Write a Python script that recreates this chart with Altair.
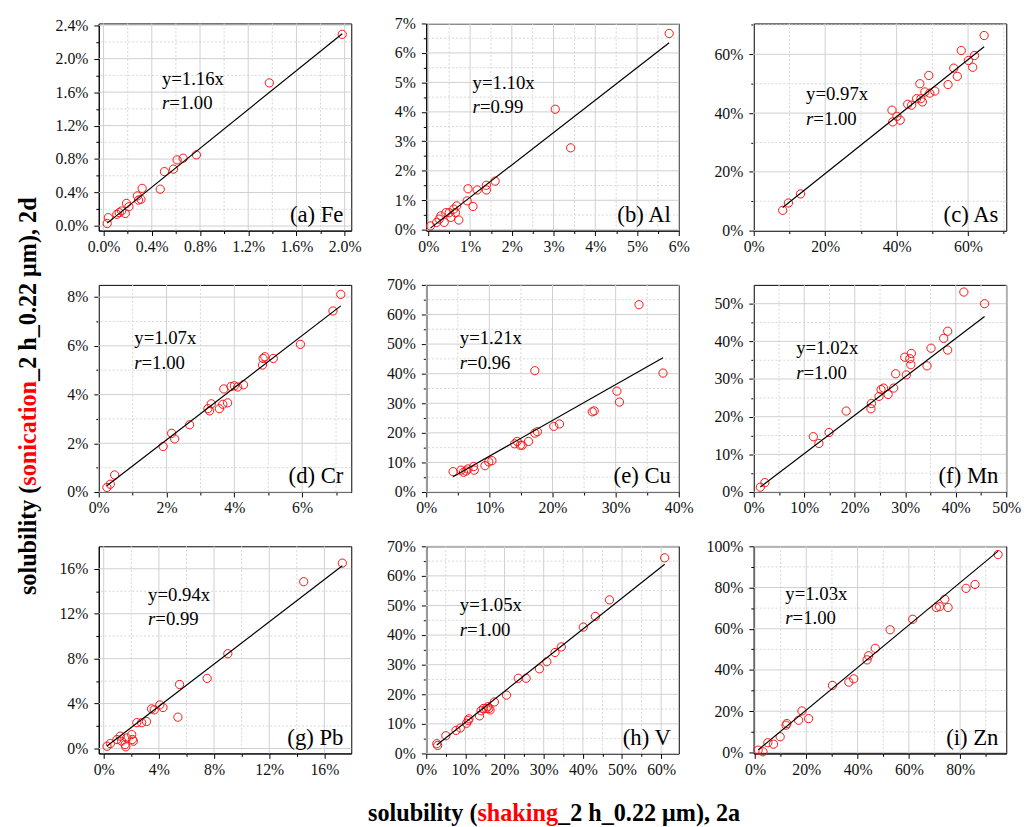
import json
import altair as alt
import pandas as pd

FONT = "Liberation Serif"

# ---------------- data (percent units) ----------------
fe_x = [0.03, 0.04, 0.11, 0.13, 0.15, 0.18, 0.19, 0.21, 0.28, 0.29, 0.31, 0.32, 0.47, 0.505, 0.58, 0.61, 0.66, 0.77, 1.375, 1.98]
fe_y = [0.03, 0.10, 0.14, 0.16, 0.18, 0.15, 0.27, 0.23, 0.36, 0.31, 0.32, 0.45, 0.44, 0.65, 0.68, 0.79, 0.81, 0.85, 1.71, 2.29]

al_x = [0.05, 0.2, 0.26, 0.3, 0.38, 0.42, 0.5, 0.54, 0.61, 0.65, 0.68, 0.73, 0.93, 0.95, 1.07, 1.17, 1.39, 1.39, 1.6, 3.04, 3.41, 5.77]
al_y = [0.13, 0.25, 0.36, 0.47, 0.25, 0.58, 0.58, 0.42, 0.70, 0.58, 0.81, 0.33, 0.98, 1.39, 0.79, 1.35, 1.51, 1.35, 1.65, 4.09, 2.78, 6.66]

as_x = [8.1, 9.7, 13.1, 38.7, 38.9, 40.1, 41.0, 43.1, 44.2, 45.6, 46.5, 46.8, 47.2, 47.9, 49.0, 49.3, 50.7, 54.4, 56.0, 57.0, 58.1, 60.1, 61.3, 61.8, 64.5]
as_y = [6.9, 9.4, 12.5, 41.0, 37.0, 38.9, 37.6, 43.0, 42.7, 44.9, 50.0, 44.9, 43.8, 47.2, 52.8, 46.8, 47.5, 49.7, 55.3, 52.5, 61.3, 57.9, 55.6, 59.6, 66.4]

cr_x = [0.24, 0.34, 0.47, 1.9, 2.15, 2.24, 2.68, 3.22, 3.27, 3.32, 3.56, 3.66, 3.69, 3.8, 3.9, 4.0, 4.1, 4.27, 4.83, 4.85, 4.9, 5.15, 5.95, 6.91, 7.14]
cr_y = [0.19, 0.32, 0.70, 1.87, 2.41, 2.18, 2.76, 3.42, 3.33, 3.62, 3.42, 3.60, 4.23, 3.66, 4.33, 4.36, 4.31, 4.40, 5.21, 5.48, 5.55, 5.48, 6.06, 7.43, 8.11]

cu_x = [4.25, 5.5, 5.9, 6.3, 6.6, 7.5, 7.6, 9.3, 9.9, 10.4, 14.0, 14.4, 14.9, 15.2, 16.2, 17.2, 17.6, 17.2, 20.2, 21.1, 26.3, 26.6, 30.2, 30.6, 33.7, 37.5]
cu_y = [6.9, 7.4, 6.7, 7.1, 7.8, 8.6, 7.4, 8.9, 10.2, 10.6, 16.3, 17.1, 15.8, 15.8, 17.1, 19.9, 20.4, 41.0, 22.2, 23.0, 27.1, 27.4, 34.1, 30.4, 63.3, 40.2]

mn_x = [1.3, 2.2, 11.8, 12.9, 14.9, 18.3, 23.2, 23.3, 24.8, 25.2, 25.7, 26.6, 27.7, 28.1, 30.2, 29.9, 30.9, 31.2, 31.1, 34.3, 35.1, 37.6, 38.4, 38.4, 41.6, 45.7]
mn_y = [1.3, 2.5, 14.7, 12.9, 15.8, 21.5, 22.1, 23.5, 25.4, 27.2, 27.6, 25.9, 27.6, 31.4, 31.1, 35.8, 35.4, 36.8, 33.8, 33.5, 38.2, 40.8, 42.7, 37.7, 53.1, 50.0]

pb_x = [0.24, 0.48, 0.96, 1.2, 1.3, 1.55, 1.6, 1.67, 2.03, 2.08, 2.15, 2.4, 2.75, 3.1, 3.47, 3.66, 4.07, 4.3, 5.38, 5.5, 7.5, 9.0, 14.5, 17.3]
pb_y = [0.2, 0.44, 0.8, 1.1, 0.65, 0.35, 0.15, 0.94, 1.24, 0.8, 0.65, 2.3, 2.3, 2.4, 3.53, 3.44, 3.88, 3.65, 2.79, 5.7, 6.24, 8.44, 14.85, 16.5]

v_x = [2.7, 2.9, 5.0, 7.6, 8.7, 10.3, 10.7, 10.9, 13.6, 14.0, 14.6, 15.3, 15.7, 16.0, 16.3, 17.4, 20.5, 23.5, 25.5, 28.9, 30.8, 32.9, 34.5, 40.1, 43.2, 46.8, 60.9]
v_y = [3.3, 2.7, 6.0, 7.8, 8.6, 10.2, 11.1, 11.7, 12.7, 14.4, 15.2, 15.2, 15.8, 15.2, 14.7, 17.4, 19.7, 25.4, 25.4, 28.6, 31.0, 34.1, 36.0, 42.7, 46.3, 51.9, 66.1]

zn_x = [1.2, 3.1, 5.0, 7.2, 9.8, 12.1, 12.4, 17.0, 18.3, 20.9, 30.2, 36.6, 38.5, 43.7, 44.3, 46.9, 52.7, 61.5, 70.7, 72.0, 74.0, 75.3, 82.3, 85.8, 94.8]
zn_y = [1.1, 0.3, 4.7, 4.0, 7.6, 13.2, 14.0, 15.6, 20.1, 16.4, 32.5, 34.1, 35.7, 44.9, 46.9, 50.5, 59.5, 64.6, 70.3, 70.7, 74.3, 70.3, 79.6, 81.5, 96.0]

slopes = [1.16, 1.10, 0.97, 1.07, 1.21, 1.02, 0.94, 1.05, 1.03]
r_values = ["1.00", "0.99", "1.00", "1.00", "0.96", "1.00", "0.99", "1.00", "1.00"]
panel_labels = ["(a) Fe", "(b) Al", "(c) As", "(d) Cr", "(e) Cu", "(f) Mn", "(g) Pb", "(h) V", "(i) Zn"]

# tick values (major labelled, minor unlabelled)
fe_xmaj = [0.0, 0.4, 0.8, 1.2, 1.6, 2.0]; fe_xmin = [0.2, 0.6, 1.0, 1.4, 1.8]
fe_ymaj = [0.0, 0.4, 0.8, 1.2, 1.6, 2.0, 2.4]; fe_ymin = [0.2, 0.6, 1.0, 1.4, 1.8, 2.2]
al_xmaj = [0, 1, 2, 3, 4, 5, 6]; al_xmin = [0.5, 1.5, 2.5, 3.5, 4.5, 5.5]
al_ymaj = [0, 1, 2, 3, 4, 5, 6, 7]; al_ymin = [0.5, 1.5, 2.5, 3.5, 4.5, 5.5, 6.5]
as_xmaj = [0, 20, 40, 60]; as_xmin = [10, 30, 50, 70]
as_ymaj = [0, 20, 40, 60]; as_ymin = [10, 30, 50, 70]
cr_xmaj = [0, 2, 4, 6]; cr_xmin = [1, 3, 5, 7]
cr_ymaj = [0, 2, 4, 6, 8]; cr_ymin = [1, 3, 5, 7]
cu_xmaj = [0, 10, 20, 30, 40]; cu_xmin = [5, 15, 25, 35]
cu_ymaj = [0, 10, 20, 30, 40, 50, 60, 70]; cu_ymin = [5, 15, 25, 35, 45, 55, 65]
mn_xmaj = [0, 10, 20, 30, 40, 50]; mn_xmin = [5, 15, 25, 35, 45]
mn_ymaj = [0, 10, 20, 30, 40, 50]; mn_ymin = [5, 15, 25, 35, 45]
pb_xmaj = [0, 4, 8, 12, 16]; pb_xmin = [2, 6, 10, 14]
pb_ymaj = [0, 4, 8, 12, 16]; pb_ymin = [2, 6, 10, 14]
v_xmaj = [0, 10, 20, 30, 40, 50, 60]; v_xmin = [5, 15, 25, 35, 45, 55]
v_ymaj = [0, 10, 20, 30, 40, 50, 60, 70]; v_ymin = [5, 15, 25, 35, 45, 55, 65]
zn_xmaj = [0, 20, 40, 60, 80]; zn_xmin = [10, 30, 50, 70, 90]
zn_ymaj = [0, 20, 40, 60, 80, 100]; zn_ymin = [10, 30, 50, 70, 90]

panels = [
    dict(x=fe_x, y=fe_y, xdom=[-0.04, 2.055], ydom=[-0.055, 2.42], xmaj=fe_xmaj, xmin=fe_xmin, ymaj=fe_ymaj, ymin=fe_ymin, dec=1, eq=(64, 62)),
    dict(x=al_x, y=al_y, xdom=[-0.05, 6.0], ydom=[-0.03, 7.0], xmaj=al_xmaj, xmin=al_xmin, ymaj=al_ymaj, ymin=al_ymin, dec=0, eq=(47, 66)),
    dict(x=as_x, y=as_y, xdom=[0, 70.7], ydom=[0, 70.5], xmaj=as_xmaj, xmin=as_xmin, ymaj=as_ymaj, ymin=as_ymin, dec=0, eq=(53, 78)),
    dict(x=cr_x, y=cr_y, xdom=[0, 7.45], ydom=[0, 8.5], xmaj=cr_xmaj, xmin=cr_xmin, ymaj=cr_ymaj, ymin=cr_ymin, dec=0, eq=(36, 60)),
    dict(x=cu_x, y=cu_y, xdom=[0, 40], ydom=[0, 70], xmaj=cu_xmaj, xmin=cu_xmin, ymaj=cu_ymaj, ymin=cu_ymin, dec=0, eq=(34, 60)),
    dict(x=mn_x, y=mn_y, xdom=[0, 50], ydom=[0, 55], xmaj=mn_xmaj, xmin=mn_xmin, ymaj=mn_ymaj, ymin=mn_ymin, dec=0, eq=(43, 70)),
    dict(x=pb_x, y=pb_y, xdom=[-0.36, 17.95], ydom=[-0.44, 18.0], xmaj=pb_xmaj, xmin=pb_xmin, ymaj=pb_ymaj, ymin=pb_ymin, dec=0, eq=(50, 55)),
    dict(x=v_x, y=v_y, xdom=[0, 64.5], ydom=[0, 70], xmaj=v_xmaj, xmin=v_xmin, ymaj=v_ymaj, ymin=v_ymin, dec=0, eq=(34, 66)),
    dict(x=zn_x, y=zn_y, xdom=[-0.5, 98], ydom=[-0.5, 100], xmaj=zn_xmaj, xmin=zn_xmin, ymaj=zn_ymaj, ymin=zn_ymin, dec=0, eq=(32, 54)),
]

W, H = 256, 210
EQ_SIZE = 19
LAB_SIZE = 23
TITLE_SIZE = 24.5
GRID_MAJOR = "#cfcfcf"
GRID_MINOR = "#d6d6d6"

# Times/Liberation Serif Bold advance widths (em) for title pieces
EM_SOLUB = 4.529      # "solubility ("
EM_SONIC = 4.334      # "sonication"
EM_SHAKE = 3.335      # "shaking"
EM_REST_D = 7.584     # "_2 h_0.22 μm), 2d"
EM_REST_A = 7.528     # "_2 h_0.22 μm), 2a"


def make_axis(major, minor, dec, orient):
    values = sorted(major + minor)
    test = f"indexof({json.dumps(major)}, datum.value) >= 0"
    return alt.Axis(
        values=values,
        orient=orient,
        title=None,
        grid=False,
        tickSize={"condition": {"test": test, "value": 5}, "value": 3},
        tickColor="black",
        tickWidth=1,
        domainColor="black",
        domainWidth=1,
        labelExpr=f"{test} ? format(datum.value, '.{dec}f') + '%' : ''",
        labelFont=FONT,
        labelFontSize=16,
        labelColor="#111111",
        labelOverlap=False,
        labelFlush=False,
        labelBound=False,
        labelPadding=6 if orient == "left" else 3,
    )


def text_layer(txt, x, y, size, align="left", baseline="alphabetic", bold=False, italic=False,
               color="black", angle=0):
    kw = dict(text=txt, font=FONT, fontSize=size, align=align, baseline=baseline,
              color=color, angle=angle)
    if bold:
        kw["fontWeight"] = "bold"
    if italic:
        kw["fontStyle"] = "italic"
    return alt.Chart(alt.Data(values=[{}])).mark_text(**kw).encode(
        x=alt.value(x), y=alt.value(y)
    )


def build_panel(i, p):
    df = pd.DataFrame({"x": p["x"], "y": p["y"]})
    X = alt.X("x:Q", scale=alt.Scale(domain=p["xdom"], nice=False, zero=False),
              axis=make_axis(p["xmaj"], p["xmin"], p["dec"], "bottom"))
    Y = alt.Y("y:Q", scale=alt.Scale(domain=p["ydom"], nice=False, zero=False),
              axis=make_axis(p["ymaj"], p["ymin"], p["dec"], "left"))

    # grid lines drawn through the scales
    vmaj = alt.Chart(pd.DataFrame({"x": p["xmaj"]})).mark_rule(
        color=GRID_MAJOR, strokeWidth=1).encode(x=X)
    vmin = alt.Chart(pd.DataFrame({"x": p["xmin"]})).mark_rule(
        color=GRID_MINOR, strokeWidth=1, strokeDash=[2, 2]).encode(x=X)
    hmaj = alt.Chart(pd.DataFrame({"y": p["ymaj"]})).mark_rule(
        color=GRID_MAJOR, strokeWidth=1).encode(y=Y)
    hmin = alt.Chart(pd.DataFrame({"y": p["ymin"]})).mark_rule(
        color=GRID_MINOR, strokeWidth=1, strokeDash=[2, 2]).encode(y=Y)

    pts = alt.Chart(df).mark_point(shape="circle", filled=False, color="#ff1010",
                                   size=70, strokeWidth=1, opacity=1).encode(x=X, y=Y)
    xlo, xhi = min(p["x"]), max(p["x"])
    line_df = pd.DataFrame({"x": [xlo, xhi], "y": [slopes[i] * xlo, slopes[i] * xhi]})
    line = alt.Chart(line_df).mark_line(color="black", strokeWidth=1.2).encode(x=X, y=Y)

    ex, ey = p["eq"]
    layers = [
        vmin, hmin, vmaj, hmaj,
        pts,
        line,
        text_layer(f"y={slopes[i]:.2f}x", ex, ey, EQ_SIZE),
        text_layer("r", ex, ey + 25, EQ_SIZE, italic=True),
        text_layer(f"={r_values[i]}", ex + 0.389 * EQ_SIZE, ey + 25, EQ_SIZE),
        text_layer(panel_labels[i], W - 8, H - 9, LAB_SIZE, align="right"),
    ]

    if i == 3:
        # y-axis title (rotated, multi-coloured), placed left of the middle-left panel
        cx = -71
        cy = 113
        total = (EM_SOLUB + EM_SONIC + EM_REST_D) * TITLE_SIZE
        start = cy + total / 2
        a = start - EM_SOLUB * TITLE_SIZE
        b = a - EM_SONIC * TITLE_SIZE
        layers += [
            text_layer("solubility (", cx, a, TITLE_SIZE, align="right", baseline="middle", bold=True, angle=270),
            text_layer("sonication", cx, a, TITLE_SIZE, align="left", baseline="middle", bold=True, angle=270, color="#ff0000"),
            text_layer("_2 h_0.22 μm), 2d", cx, b, TITLE_SIZE, align="left", baseline="middle", bold=True, angle=270),
        ]
    if i == 7:
        # x-axis title (multi-coloured), placed below the bottom-middle panel
        cxm = 129.5
        ty = H + 68
        total = (EM_SOLUB + EM_SHAKE + EM_REST_A) * TITLE_SIZE
        start = cxm - total / 2
        a = start + EM_SOLUB * TITLE_SIZE
        b = a + EM_SHAKE * TITLE_SIZE
        layers += [
            text_layer("solubility (", a, ty, TITLE_SIZE, align="right", bold=True),
            text_layer("shaking", a, ty, TITLE_SIZE, align="left", bold=True, color="#ff0000"),
            text_layer("_2 h_0.22 μm), 2a", b, ty, TITLE_SIZE, align="left", bold=True),
        ]

    return alt.layer(*layers).properties(width=W, height=H)


charts = [build_panel(i, p) for i, p in enumerate(panels)]

chart = alt.concat(
    *charts, columns=3, spacing={"row": 55, "column": 76}, bounds="flush"
).properties(
    padding={"left": 7, "top": 1, "right": 5, "bottom": 5},
    background="white",
).configure_view(
    stroke="black", strokeWidth=1
)

chart.save("out.html", embed_options={"renderer": "svg", "actions": False})
